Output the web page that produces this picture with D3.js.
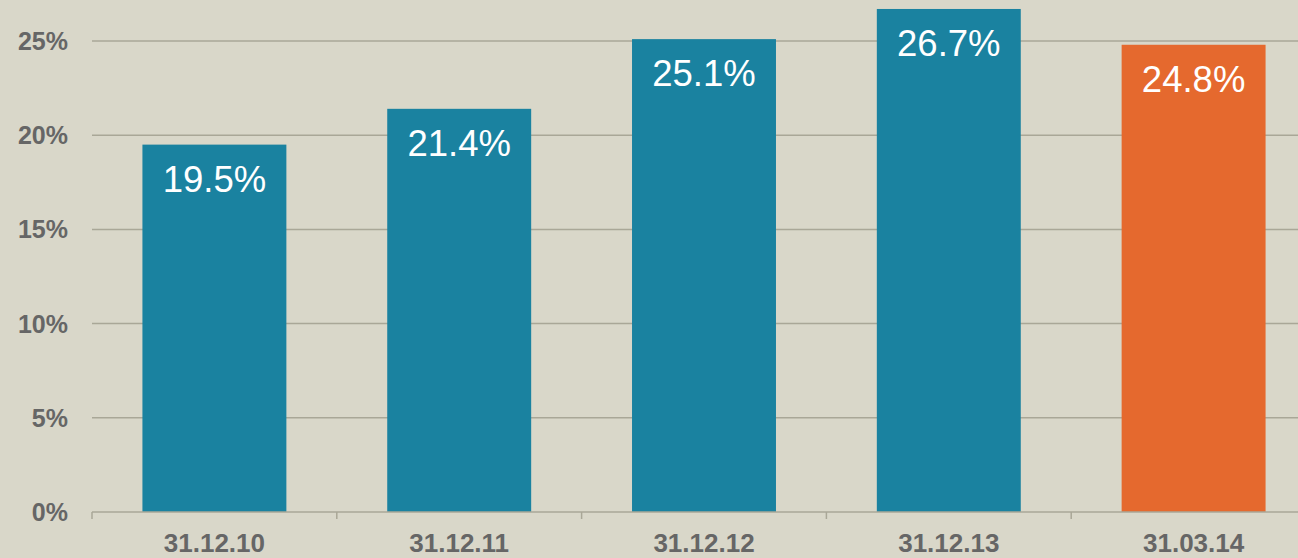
<!DOCTYPE html>
<html>
<head>
<meta charset="utf-8">
<style>
  html, body { margin: 0; padding: 0; background: #d9d7c9; }
  svg { display: block; }
  text { font-family: "Liberation Sans", Arial, sans-serif; }
</style>
</head>
<body>
<svg width="1298" height="558"></svg>
<script src="https://cdnjs.cloudflare.com/ajax/libs/d3/7.8.5/d3.min.js"></script>
<script>

var dates = ["31.12.10", "31.12.11", "31.12.12", "31.12.13", "31.03.14"];
var values = [19.5, 21.4, 25.1, 26.7, 24.8];
var yTicks = [0, 5, 10, 15, 20, 25];

var svg = d3.select("svg"),
    width = +svg.attr("width"),
    height = +svg.attr("height");

svg.append("rect").attr("width", width).attr("height", height).attr("fill", "#d9d7c9");

// the plot runs a bit past the right edge of the picture
var x = d3.scaleBand().domain(dates).range([92, 1316]).paddingInner(0.412).paddingOuter(0.206);
var y = d3.scaleLinear().domain([0, 25]).range([512, 41]);

// gridlines
svg.append("g")
  .selectAll("line")
  .data(yTicks.slice(1))
  .enter().append("line")
    .attr("x1", 92).attr("x2", width)
    .attr("y1", function(d) { return y(d); })
    .attr("y2", function(d) { return y(d); })
    .attr("stroke", "#a9a797")
    .attr("stroke-width", 1.5);

// y labels
svg.append("g")
  .selectAll("text")
  .data(yTicks)
  .enter().append("text")
    .attr("x", 68)
    .attr("y", function(d) { return y(d) + 9; })
    .attr("text-anchor", "end")
    .attr("font-size", 25)
    .attr("font-weight", "bold")
    .attr("fill", "#666666")
    .text(function(d) { return d + "%"; });

// bars
svg.append("g")
  .selectAll("rect")
  .data(values)
  .enter().append("rect")
    .attr("x", function(d, i) { return x(dates[i]); })
    .attr("y", function(d) { return y(d); })
    .attr("width", x.bandwidth())
    .attr("height", function(d) { return y(0) - y(d); })
    .attr("fill", function(d, i) { return i == 4 ? "#e5692e" : "#1a82a0"; });

// value labels
svg.append("g")
  .selectAll("text")
  .data(values)
  .enter().append("text")
    .attr("x", function(d, i) { return x(dates[i]) + x.bandwidth() / 2; })
    .attr("y", function(d) { return y(d) + 47; })
    .attr("text-anchor", "middle")
    .attr("font-size", 36.5)
    .attr("fill", "#ffffff")
    .text(function(d) { return d.toFixed(1) + "%"; });

// x axis
var xAxis = svg.append("g").attr("transform", "translate(0," + y(0) + ")");
xAxis.append("line")
  .attr("x1", 92).attr("x2", width)
  .attr("stroke", "#a9a797").attr("stroke-width", 1.5);
xAxis.selectAll(".tick")
  .data(dates)
  .enter().append("line")
    .attr("x1", function(d) { return x(d) - x.step() * x.paddingInner() / 2; })
    .attr("x2", function(d) { return x(d) - x.step() * x.paddingInner() / 2; })
    .attr("y1", 0).attr("y2", 7)
    .attr("stroke", "#a9a797").attr("stroke-width", 1.5);
xAxis.selectAll("text")
  .data(dates)
  .enter().append("text")
    .attr("x", function(d) { return x(d) + x.bandwidth() / 2; })
    .attr("y", 40)
    .attr("text-anchor", "middle")
    .attr("font-size", 26)
    .attr("font-weight", "bold")
    .attr("fill", "#666666")
    .text(function(d) { return d; });

</script>
</body>
</html>
